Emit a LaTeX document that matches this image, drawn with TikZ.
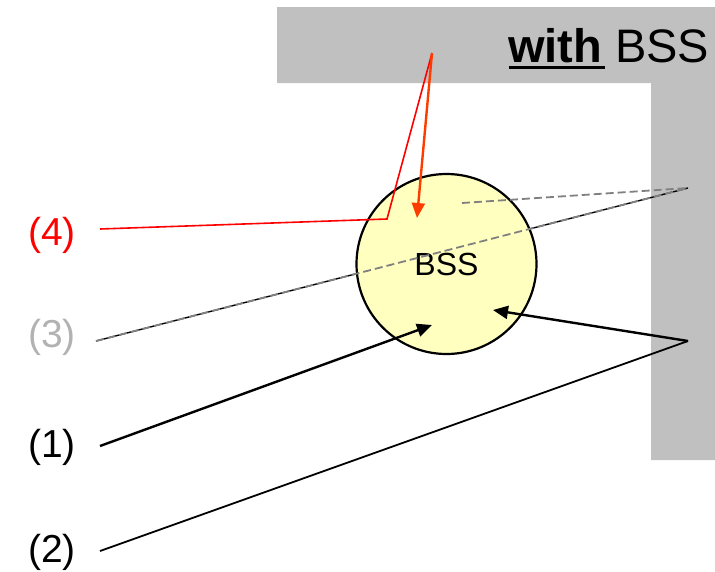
\documentclass[tikz,border=0pt]{standalone}
\usepackage{fontspec}
\setmainfont{Liberation Sans}
\usetikzlibrary{arrows.meta}
\definecolor{wallgray}{RGB}{192,192,192}
\definecolor{bssfill}{RGB}{255,255,192}
\definecolor{lblgray}{RGB}{178,178,178}
\definecolor{dashgray}{RGB}{128,128,128}
\definecolor{arrred}{RGB}{255,60,0}
\tikzset{
  lbl/.style={anchor=base west, inner sep=0pt, font=\fontsize{39}{41}\selectfont},
  tip/.style={-{Triangle[length=15pt,width=13pt]}},
  dashray/.style={draw=dashgray, line width=1.8pt, dash pattern=on 8pt off 4pt},
}
\begin{document}
\begin{tikzpicture}[x=1pt,y=-1pt]
\useasboundingbox (0,0) rectangle (715,571);
% wall
\fill[wallgray] (277,7) -- (715,7) -- (715,460) -- (651,460) -- (651,83) -- (277,83) -- cycle;
% title
\node[anchor=base west, inner sep=0pt, font=\fontsize{47}{50}\selectfont] (title) at (508,62) {\textbf{with} BSS};
\draw[line width=3pt] (509,67.5) -- (605,67.5);
% labels
\node[lbl, text=red] (l4) at (28,245) {(4)};
\node[lbl, text=lblgray] (l3) at (28,347) {(3)};
\node[lbl] (l1) at (28,457) {(1)};
\node[lbl] (l2) at (28,562) {(2)};
% coordinates
\coordinate (s4) at (100,229);
\coordinate (s3) at (96,341);
\coordinate (s1) at (100,446);
\coordinate (s2) at (100,551);
\coordinate (wA) at (688,188);
\coordinate (wB) at (688,341);
\coordinate (wC) at (432,53);
\coordinate (k4) at (387,219);
\coordinate (t4) at (417,218);
\coordinate (t1) at (432,325);
\coordinate (t2) at (493,310);
\coordinate (d2) at (462,203);
% black line under circle (3)
\draw[black, line width=1.4pt] (s3) -- (wA);
% BSS circle
\node[circle, draw=black, line width=2.2pt, fill=bssfill, minimum size=180pt, inner sep=0pt,
      font=\fontsize{32}{34}\selectfont] (bss) at (446.5,264) {BSS};
% (3) dashed rays
\draw[dashray] (s3) -- (wA);
\draw[dashray] (d2) -- (wA);
% (4) red path
\draw[red, line width=1.6pt] (s4) -- (k4) -- (wC);
\draw[arrred, line width=2.4pt, tip] (wC) -- (t4);
% (1)
\draw[black, line width=2.4pt, tip] (s1) -- (t1);
% (2)
\draw[black, line width=1.8pt] (s2) -- (wB);
\draw[black, line width=2.4pt, tip] (wB) -- (t2);
\end{tikzpicture}
\end{document}
